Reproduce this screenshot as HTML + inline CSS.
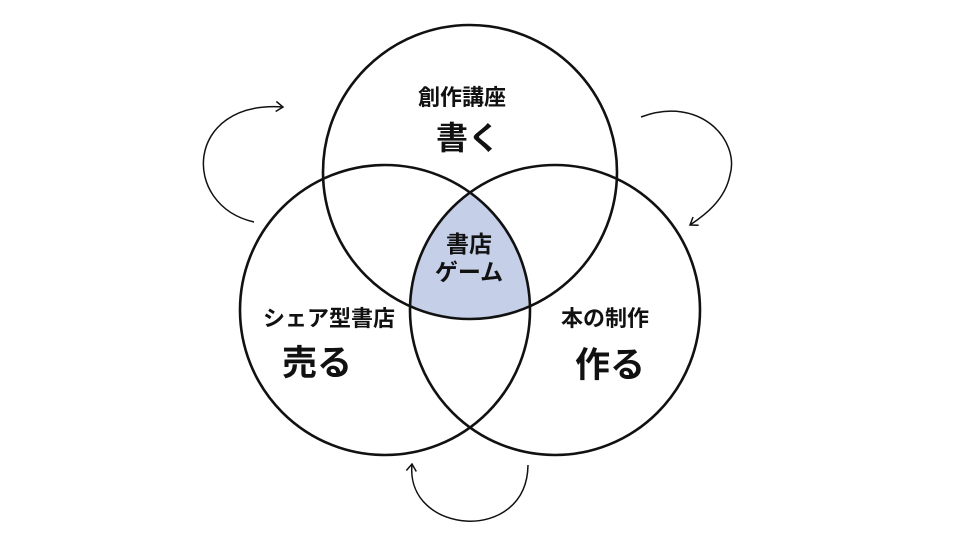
<!DOCTYPE html>
<html><head><meta charset="utf-8"><style>
html,body{margin:0;padding:0;background:#fff;}
svg{display:block;}
text{font-family:"Liberation Sans","Noto Sans CJK JP",sans-serif;font-weight:bold;fill:#111;}
</style></head><body>
<svg width="956" height="535" viewBox="0 0 956 535" xmlns="http://www.w3.org/2000/svg">
<defs>
<clipPath id="cA"><circle cx="470" cy="172" r="147"/></clipPath>
<clipPath id="cB"><circle cx="385" cy="310" r="145"/></clipPath>
<marker id="ar" markerWidth="12" markerHeight="12" refX="9" refY="6" orient="auto" markerUnits="userSpaceOnUse">
<path d="M2,1 L9,6 L2,11" fill="none" stroke="#111" stroke-width="1.5"/>
</marker>
</defs>
<g clip-path="url(#cA)"><g clip-path="url(#cB)"><circle cx="555" cy="310" r="145" fill="#c5cfe8"/></g></g>
<g fill="none" stroke="#111" stroke-width="2.6">
<circle cx="470" cy="172" r="147"/>
<circle cx="385" cy="310" r="145"/>
<circle cx="555" cy="310" r="145"/>
</g>
<g fill="none" stroke="#111" stroke-width="1.5">
<path d="M254,222 C180,205 185,100 283,107" marker-end="url(#ar)"/>
<path d="M641,117 C700,95 740,140 730,175 C725,200 705,215 690,225" marker-end="url(#ar)"/>
<path d="M528,465 C527,545 405,535 412,464" marker-end="url(#ar)"/>
</g>
<text x="462" y="105" font-size="22" text-anchor="middle">創作講座</text>
<text x="468" y="149" font-size="32" text-anchor="middle">書く</text>
<text x="469" y="252" font-size="23" text-anchor="middle">書店</text>
<text x="469" y="280" font-size="23" text-anchor="middle">ゲーム</text>
<text x="329" y="326" font-size="22" text-anchor="middle">シェア型書店</text>
<text x="317" y="375" font-size="35" text-anchor="middle">売る</text>
<text x="605" y="326" font-size="22" text-anchor="middle">本の制作</text>
<text x="610" y="377" font-size="35" text-anchor="middle">作る</text>
</svg>
</body></html>
